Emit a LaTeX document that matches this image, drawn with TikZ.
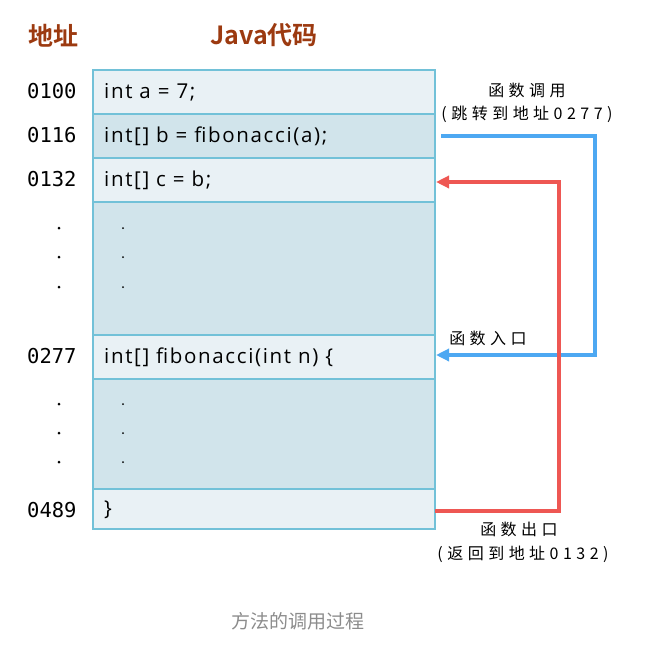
\documentclass[tikz,border=0pt]{standalone}
\usepackage{fontspec}
\usetikzlibrary{arrows.meta}
\newfontfamily\cjk{Noto Sans CJK SC}
\newfontfamily\cjkwide[LetterSpace=28]{Noto Sans CJK SC}
\newfontfamily\cjkb{Noto Sans CJK SC Bold}
\newfontfamily\codef[LetterSpace=8]{Open Sans}
\newfontfamily\monof{DejaVu Sans Mono}
\definecolor{lightrow}{HTML}{E9F1F5}
\definecolor{darkrow}{HTML}{D1E4EB}
\definecolor{rowborder}{HTML}{72C1D8}
\definecolor{headbrown}{HTML}{9C3A10}
\definecolor{callblue}{HTML}{4DA8F2}
\definecolor{retred}{HTML}{EE5753}
\definecolor{capgray}{HTML}{8C8C8C}
\begin{document}
\begin{tikzpicture}[x=1pt,y=-1pt,
  rowbox/.style={draw=rowborder,line width=1.8pt,minimum width=342pt,inner sep=0pt,outer sep=0pt,anchor=north west},
  codetext/.style={font=\codef\fontsize{20.5}{22}\selectfont,anchor=west,inner sep=0pt},
  addr/.style={font=\monof\fontsize{20.5}{22}\selectfont,anchor=west,inner sep=0pt},
  head/.style={font=\cjkb\fontsize{25}{28}\selectfont,text=headbrown,inner sep=0pt},
  note/.style={font=\cjkwide\fontsize{16}{18}\selectfont,inner sep=0pt},
  dotmark/.style={circle,fill=black,inner sep=0pt,minimum size=#1},
  callline/.style={draw=callblue,line width=3.5pt,-{Triangle[length=13pt,width=12pt]}},
  retline/.style={draw=retred,line width=3.5pt,-{Triangle[length=13pt,width=12pt]}}]
\useasboundingbox (0,0) rectangle (648,662);
% headers
\node[head] (h1) at (53,36) {地址};
\node[head] (h2) at (264,35) {Java代码};
% rows
\node[rowbox,fill=lightrow,minimum height=44pt] (r1) at (93,70) {};
\node[rowbox,fill=darkrow,minimum height=44pt] (r2) at (93,114) {};
\node[rowbox,fill=lightrow,minimum height=44pt] (r3) at (93,158) {};
\node[rowbox,fill=darkrow,minimum height=133pt] (r4) at (93,202) {};
\node[rowbox,fill=lightrow,minimum height=44pt] (r5) at (93,335) {};
\node[rowbox,fill=darkrow,minimum height=110pt] (r6) at (93,379) {};
\node[rowbox,fill=lightrow,minimum height=40pt] (r7) at (93,489) {};
% code text
\node[codetext] (c1) at (104,92) {int a = 7;};
\node[codetext] (c2) at (104,136) {int[] b = fibonacci(a);};
\node[codetext] (c3) at (104,180) {int[] c = b;};
\node[codetext] (c5) at (104,357) {int[] fibonacci(int n) \{};
\node[codetext] (c7) at (104,510) {\}};
% inner dots
\foreach \y [count=\i] in {228,257,287,404,433,462}
  \node[dotmark=2pt] (id\i) at (123,\y) {};
% addresses
\node[addr] (a1) at (27,91) {0100};
\node[addr] (a2) at (27,135) {0116};
\node[addr] (a3) at (27,179) {0132};
\node[addr] (a5) at (27,356) {0277};
\node[addr] (a7) at (27,510) {0489};
\foreach \y [count=\i] in {228,257,287,404,433,462}
  \node[dotmark=3pt] (ad\i) at (59,\y) {};
% notes
\node[note] (n1) at (527,90) {函数调用};
\node[note] (n2) at (527,114) {(跳转到地址0277)};
\node[note] (n3) at (488,338) {函数入口};
\node[note] (n4) at (519,529) {函数出口};
\node[note] (n5) at (523,554) {(返回到地址0132)};
% connectors
\coordinate (bs) at (441,136);
\coordinate (bc) at (595,355);
\coordinate (be) at (436,355);
\draw[callline] (bs) -| (bc) -- (be);
\coordinate (rs) at (435,511);
\coordinate (rc) at (559,182);
\coordinate (re) at (436,182);
\draw[retline] (rs) -| (rc) -- (re);
% caption
\node[font=\cjk\fontsize{19}{22}\selectfont,text=capgray,inner sep=0pt] (cap) at (298,621) {方法的调用过程};
\end{tikzpicture}
\end{document}
